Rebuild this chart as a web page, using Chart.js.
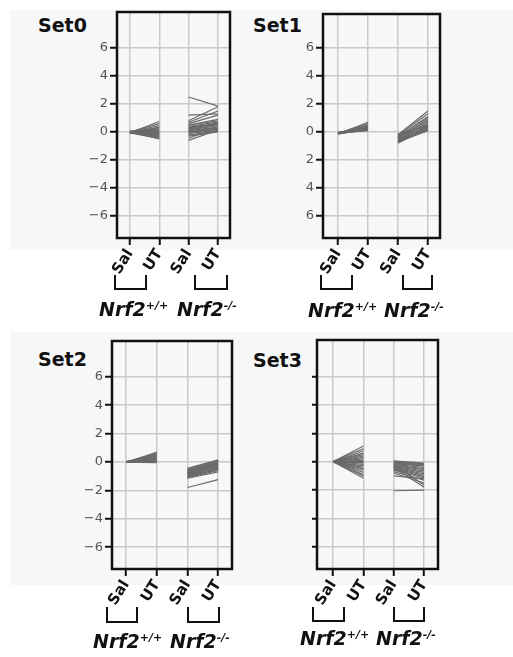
<!DOCTYPE html>
<html>
<head>
<meta charset="utf-8">
<script src="https://cdn.jsdelivr.net/npm/chart.js@4"></script>
<style>
body { margin:0; background:#fff; width:513px; height:657px; position:relative; overflow:hidden; }
.band { position:absolute; left:10px; width:503px; background:#f6f7f9; }
canvas { position:absolute; }
.title { position:absolute; font:bold 19px "DejaVu Sans", sans-serif; line-height:19px; color:#111; }
.brk { position:absolute; box-sizing:border-box; border:2.5px solid #111; border-top:none; }
.grp { position:absolute; font:italic bold 19px "DejaVu Sans", sans-serif; line-height:19px; color:#111; white-space:nowrap; }
.grp sup { font-size:11px; line-height:0; vertical-align:7px; }
</style>
</head>
<body>
<div class="band" style="top:10px;height:240px"></div>
<div class="band" style="top:332px;height:253px"></div>

<div class="title" style="left:38px;top:16px">Set0</div>
<div class="title" style="left:253px;top:16px">Set1</div>
<div class="title" style="left:38px;top:350px">Set2</div>
<div class="title" style="left:253px;top:351px">Set3</div>

<canvas id="c0"></canvas>
<canvas id="c1"></canvas>
<canvas id="c2"></canvas>
<canvas id="c3"></canvas>

<div class="brk" style="left:114px;top:275px;width:33px;height:15px"></div>
<div class="brk" style="left:194px;top:275px;width:34px;height:15px"></div>
<div class="brk" style="left:320px;top:275px;width:33px;height:15px"></div>
<div class="brk" style="left:402px;top:275px;width:31px;height:15px"></div>
<div class="brk" style="left:106px;top:607px;width:32px;height:16px"></div>
<div class="brk" style="left:187px;top:607px;width:33px;height:16px"></div>
<div class="brk" style="left:312px;top:607px;width:33px;height:15px"></div>
<div class="brk" style="left:393px;top:607px;width:32px;height:15px"></div>

<div class="grp" style="left:99px;top:300px">Nrf2<sup>+/+</sup></div>
<div class="grp" style="left:177px;top:300px">Nrf2<sup>-/-</sup></div>
<div class="grp" style="left:308px;top:301px">Nrf2<sup>+/+</sup></div>
<div class="grp" style="left:384px;top:301px">Nrf2<sup>-/-</sup></div>
<div class="grp" style="left:93px;top:632px">Nrf2<sup>+/+</sup></div>
<div class="grp" style="left:170px;top:632px">Nrf2<sup>-/-</sup></div>
<div class="grp" style="left:300px;top:629px">Nrf2<sup>+/+</sup></div>
<div class="grp" style="left:376px;top:629px">Nrf2<sup>-/-</sup></div>

<script>
// categories on the x axis (Sal / UT for each genotype)
var xLabels = ['Sal', 'UT', 'Sal', 'UT'];
var xPositions = [0, 1, 2, 3];

// y ticks and the labels printed beside them
var yTicks = [6, 4, 2, 0, -2, -4, -6];
var yLabelsSigned = ['6', '4', '2', '0', '\u22122', '\u22124', '\u22126'];
var yLabelsPlain = ['6', '4', '2', '0', '2', '4', '6'];
var yLabelsNone = ['', '', '', '', '', '', ''];

// Set0
var set0WtSal = [-0.05, 0, 0.02, -0.08, 0.05, -0.03, 0, -0.1, 0.03, -0.02, 0.01, -0.06, 0.04, 0, -0.04, 0.02, -0.01, 0.06, -0.07, 0];
var set0WtUt  = [0.75, 0.6, 0.45, 0.35, 0.3, 0.22, 0.15, 0.1, 0.05, 0, -0.05, -0.1, -0.15, -0.2, -0.25, -0.3, -0.35, -0.4, -0.45, -0.5];
var set0KoSal = [2.5, 1.2, 0.8, 0.7, 0.6, 0.5, 0.4, 0.35, 0.3, 0.2, 0.15, 0.1, 0.05, 0, -0.05, -0.1, -0.2, -0.3, -0.45, -0.6, 0.25, 0.5];
var set0KoUt  = [1.85, 1.3, 1.8, 1.5, 1.2, 0.8, 0.7, 0.6, 0.55, 0.5, 0.45, 0.35, 0.3, 0.25, 0.2, 0.1, 0.05, 0, 0.3, 0.15, 0.65, 0.9];

// Set1
var set1WtSal = [-0.15, -0.1, -0.12, -0.05, -0.08, -0.1, -0.02, -0.06, -0.15, -0.1, -0.04, -0.08, -0.12, -0.1, -0.05];
var set1WtUt  = [0.7, 0.6, 0.5, 0.45, 0.4, 0.35, 0.3, 0.28, 0.25, 0.22, 0.2, 0.18, 0.15, 0.12, 0.1];
var set1KoSal = [-0.8, -0.7, -0.65, -0.6, -0.55, -0.5, -0.45, -0.4, -0.35, -0.3, -0.25, -0.2, -0.5, -0.6, -0.4, -0.3, -0.15, -0.7];
var set1KoUt  = [0.3, 0.2, 0.5, 0.35, 0.7, 0.4, 0.9, 0.6, 1.1, 0.5, 1.3, 1.5, 0.25, 0.15, 0.8, 1.0, 0.45, 0.1];

// Set2
var set2WtSal = [-0.05, 0, 0.02, -0.03, 0, 0.03, -0.02, 0, 0.01, -0.04, 0.02, 0, -0.01, 0.03, -0.02];
var set2WtUt  = [0.7, 0.6, 0.55, 0.5, 0.45, 0.4, 0.35, 0.3, 0.25, 0.2, 0.15, 0.1, 0.05, 0, -0.05];
var set2KoSal = [-0.45, -0.5, -0.55, -0.6, -0.65, -0.7, -0.75, -0.8, -0.85, -0.9, -0.95, -1.0, -1.05, -1.1, -1.15, -0.6, -0.8, -1.0, -1.8];
var set2KoUt  = [0.15, 0.1, 0.05, 0, -0.05, -0.1, -0.15, -0.2, -0.25, -0.3, -0.35, -0.4, -0.5, -0.6, -0.7, -0.2, -0.45, -0.55, -1.25];

// Set3
var set3WtSal = [0, 0.02, -0.02, 0, 0.01, -0.01, 0, 0.03, -0.03, 0, 0.02, -0.02, 0, 0.01, -0.01, 0, 0.02, -0.02, 0, 0.01, -0.01, 0];
var set3WtUt  = [1.1, 0.9, 0.75, 0.6, 0.5, 0.4, 0.3, 0.2, 0.1, 0.05, 0, -0.05, -0.1, -0.2, -0.3, -0.4, -0.5, -0.6, -0.75, -0.9, -1.0, -1.15];
var set3KoSal = [0.05, 0, -0.05, -0.1, -0.15, -0.2, -0.25, -0.3, -0.35, -0.4, -0.45, -0.5, -0.55, -0.6, -0.7, -0.8, -0.2, -0.4, -1.0, -2.05];
var set3KoUt  = [-0.1, -0.15, -0.2, -0.25, -0.3, -0.4, -0.5, -0.55, -0.65, -0.75, -0.85, -0.95, -1.05, -1.15, -1.3, -1.5, -1.65, -1.8, -1.2, -2.0];

// frame round the plot area
var frame = {
    id: 'frame',
    afterDraw: function (chart) {
        var a = chart.chartArea, c = chart.ctx;
        c.save();
        c.strokeStyle = '#111';
        c.lineWidth = 2.5;
        c.strokeRect(a.left, a.top, a.right - a.left, a.bottom - a.top);
        c.restore();
    }
};

function lines(sal, ut, x0) {
    var out = [];
    for (var i = 0; i < sal.length; i++) {
        out.push({
            data: [{x: x0, y: sal[i]}, {x: x0 + 1, y: ut[i]}],
            borderColor: '#6a6a6a',
            borderWidth: 1.2,
            pointRadius: 0
        });
    }
    return out;
}

function panel(id, area, xr, yr, yLabels, yTickLen, wtSal, wtUt, koSal, koUt) {
    var padL = 110, padT = 14, padR = 22, padB = 45;
    var cv = document.getElementById(id);
    cv.width = area.r - area.l + padL + padR;
    cv.height = area.b - area.t + padT + padB;
    cv.style.left = (area.l - padL) + 'px';
    cv.style.top = (area.t - padT) + 'px';

    new Chart(cv, {
        type: 'line',
        data: { datasets: lines(wtSal, wtUt, 0).concat(lines(koSal, koUt, 2)) },
        plugins: [frame],
        options: {
            responsive: false,
            animation: false,
            devicePixelRatio: 1,
            layout: { padding: { top: padT, right: padR, left: 0, bottom: 0 } },
            plugins: { legend: { display: false }, tooltip: { enabled: false } },
            scales: {
                x: {
                    type: 'linear', min: xr[0], max: xr[1],
                    afterBuildTicks: function (s) { s.ticks = xPositions.map(function (v) { return {value: v}; }); },
                    afterFit: function (s) { s.height = padB; s.paddingLeft = s.paddingRight = s.paddingTop = s.paddingBottom = 0; },
                    ticks: {
                        autoSkip: false, minRotation: 58, maxRotation: 58, padding: 1,
                        color: '#111', font: { family: 'DejaVu Sans', size: 15, weight: 'bold' },
                        callback: function (v, i) { return xLabels[i]; }
                    },
                    grid: { color: '#c9c9c9', lineWidth: 1.5, tickColor: '#111', tickWidth: 2, tickLength: 7 },
                    border: { display: false }
                },
                y: {
                    type: 'linear', min: yr[0], max: yr[1],
                    afterBuildTicks: function (s) { s.ticks = yTicks.map(function (v) { return {value: v}; }); },
                    afterFit: function (s) { s.width = padL; s.paddingLeft = s.paddingRight = s.paddingTop = s.paddingBottom = 0; },
                    ticks: {
                        padding: 2, color: '#555', font: { family: 'DejaVu Sans', size: 13 },
                        callback: function (v) { return yLabels[yTicks.indexOf(v)]; }
                    },
                    grid: { color: '#c9c9c9', lineWidth: 1.5, tickColor: '#111', tickWidth: 2, tickLength: yTickLen },
                    border: { display: false }
                }
            }
        }
    });
}

panel('c0', {l: 117, t: 12, r: 230, b: 238}, [-0.44, 3.41], [-7.57, 8.57], yLabelsSigned, 7, set0WtSal, set0WtUt, set0KoSal, set0KoUt);
panel('c1', {l: 323, t: 14, r: 440, b: 238}, [-0.5, 3.4], [-7.57, 8.43], yLabelsPlain, 7, set1WtSal, set1WtUt, set1KoSal, set1KoUt);
panel('c2', {l: 112, t: 341, r: 232, b: 569}, [-0.46, 3.45], [-7.54, 8.52], yLabelsSigned, 7, set2WtSal, set2WtUt, set2KoSal, set2KoUt);
panel('c3', {l: 317, t: 340, r: 438, b: 569}, [-0.53, 3.46], [-7.56, 8.57], yLabelsNone, 5, set3WtSal, set3WtUt, set3KoSal, set3KoUt);
</script>
</body>
</html>
